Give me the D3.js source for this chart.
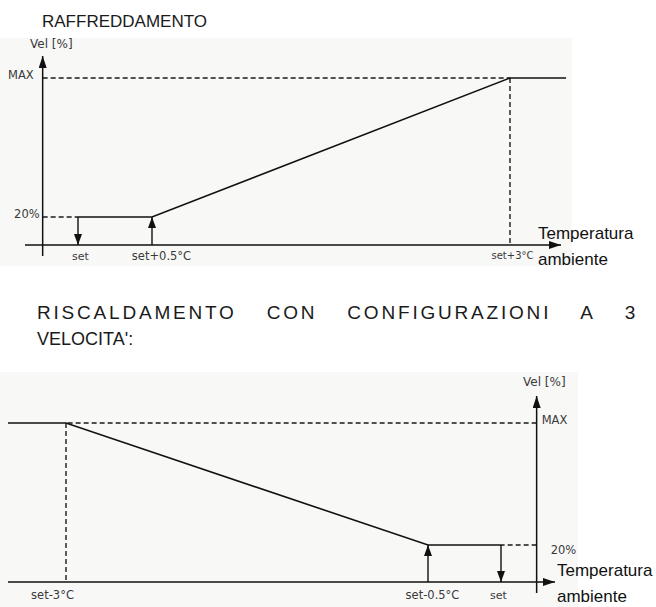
<!DOCTYPE html>
<html>
<head>
<meta charset="utf-8">
<script src="https://cdn.jsdelivr.net/npm/d3@7"></script>
<style>
  body { margin: 0; background: #fff; }
  svg { display: block; }
  .title { font-family: "Liberation Sans", Arial, sans-serif; fill: #1a1a1a; }
  .tick-lbl, .vel { font-family: "DejaVu Sans", Verdana, sans-serif; fill: #3a3a3a; }
  .xname { font-family: "Liberation Sans", Arial, sans-serif; font-size: 17px; fill: #111; }
</style>
</head>
<body>
<svg id="chart" width="656" height="607"></svg>
<script>
// ---- data ----
const speedLevels = [20, 100];
const speedLabels = ["20%", "MAX"];

const coolTicks = [0, 0.5, 3];
const coolTickLabels = ["set", "set+0.5°C", "set+3°C"];
const coolCurve = [[0, 20], [0.5, 20], [3, 100], [3.55, 100]];

const heatTicks = [-3, -0.5, 0];
const heatTickLabels = ["set-3°C", "set-0.5°C", "set"];
const heatCurve = [[-3.6, 100], [-3, 100], [-0.5, 20], [0, 20]];

const svg = d3.select("#chart");

// arrow markers
const defs = svg.append("defs");
function marker(id, w, h) {
  defs.append("marker")
    .attr("id", id)
    .attr("markerUnits", "userSpaceOnUse")
    .attr("viewBox", `0 0 ${h} ${w}`)
    .attr("refX", h).attr("refY", w / 2)
    .attr("markerWidth", h).attr("markerHeight", w)
    .attr("orient", "auto")
    .append("path")
    .attr("d", `M0,0L${h},${w / 2}L0,${w}Z`)
    .attr("fill", "#111");
}
marker("axisArrow", 8, 12);
marker("smallArrow", 8, 11);

const line = (x, y) => d3.line().x((d) => x(d[0])).y((d) => y(d[1]));

function drawPanel(cfg) {
  const g = svg.append("g");
  const { x, y } = cfg;

  // faint paper background
  g.append("rect")
    .attr("x", cfg.bg[0]).attr("y", cfg.bg[1])
    .attr("width", cfg.bg[2]).attr("height", cfg.bg[3])
    .attr("fill", "#f8f8f7");

  // dashed guides: levels from y axis to curve, vertical at the ramp end
  const dash = g.append("g")
    .attr("stroke", "#1a1a1a").attr("stroke-width", 1.4)
    .attr("stroke-dasharray", "5,3").attr("fill", "none");
  dash.append("line")
    .attr("x1", x(cfg.yAxisAt)).attr("x2", x(cfg.maxDashTo))
    .attr("y1", y(100)).attr("y2", y(100));
  dash.append("line")
    .attr("x1", x(cfg.yAxisAt)).attr("x2", x(cfg.lowDashTo))
    .attr("y1", y(20)).attr("y2", y(20));
  dash.append("line")
    .attr("x1", x(cfg.maxDashTo)).attr("x2", x(cfg.maxDashTo))
    .attr("y1", y(100)).attr("y2", y(0));

  // axes with arrowheads
  const ax = g.append("g").attr("stroke", "#111").attr("stroke-width", 1.5);
  ax.append("line")
    .attr("x1", x(cfg.xFrom)).attr("x2", x(cfg.xTo))
    .attr("y1", y(0)).attr("y2", y(0))
    .attr("marker-end", "url(#axisArrow)");
  ax.append("line")
    .attr("x1", x(cfg.yAxisAt)).attr("x2", x(cfg.yAxisAt))
    .attr("y1", y(0) + 11).attr("y2", y(100) - cfg.yTip)
    .attr("marker-end", "url(#axisArrow)");

  // curve
  g.append("path")
    .datum(cfg.curve)
    .attr("d", line(x, y))
    .attr("fill", "none").attr("stroke", "#111").attr("stroke-width", 1.6);

  // hysteresis arrows
  g.append("line")
    .attr("x1", x(cfg.downAt)).attr("x2", x(cfg.downAt))
    .attr("y1", y(20)).attr("y2", y(0))
    .attr("stroke", "#111").attr("stroke-width", 1.4)
    .attr("marker-end", "url(#smallArrow)");
  g.append("line")
    .attr("x1", x(cfg.upAt)).attr("x2", x(cfg.upAt))
    .attr("y1", y(0)).attr("y2", y(20))
    .attr("stroke", "#111").attr("stroke-width", 1.4)
    .attr("marker-end", "url(#smallArrow)");

  // x tick labels via d3 axis
  const xa = g.append("g")
    .attr("transform", `translate(0,${y(0)})`)
    .call(d3.axisBottom(x).tickValues(cfg.ticks)
      .tickFormat((d, i) => cfg.tickLabels[i]).tickSize(0).tickPadding(cfg.tickPad));
  xa.select(".domain").remove();
  xa.selectAll("text")
    .attr("class", "tick-lbl")
    .attr("fill", null)
    .style("font-size", (d, i) => cfg.tickSizes[i] + "px")
    .attr("dx", (d, i) => cfg.tickDx[i]);

  // y level labels via d3 axis
  const yAxisFn = cfg.side === "left" ? d3.axisLeft(y) : d3.axisRight(y);
  const ya = g.append("g")
    .attr("transform", `translate(${x(cfg.yAxisAt)},0)`)
    .call(yAxisFn.tickValues(speedLevels)
      .tickFormat((d, i) => speedLabels[i]).tickSize(0).tickPadding(3));
  ya.select(".domain").remove();
  ya.selectAll("text")
    .attr("class", "tick-lbl")
    .attr("fill", null)
    .style("font-size", "11.5px")
    .attr("dx", (d, i) => cfg.levelDx[i])
    .attr("dy", (d, i) => cfg.levelDy[i]);

  // axis names
  g.append("text").attr("class", "vel")
    .attr("x", cfg.velPos[0]).attr("y", cfg.velPos[1])
    .style("font-size", "12px")
    .text("Vel [%]");
  const nm = g.append("text").attr("class", "xname")
    .attr("x", cfg.namePos[0]).attr("y", cfg.namePos[1]);
  nm.append("tspan").text("Temperatura");
  nm.append("tspan").attr("x", cfg.namePos[0]).attr("dy", 26).text("ambiente");
}

// ---- cooling panel ----
drawPanel({
  x: d3.scaleLinear().domain([-1.5, 0, 0.5, 3, 3.5]).range([25, 78, 152, 510, 561]),
  y: d3.scaleLinear().domain([0, 20, 100]).range([245, 217, 78]),
  bg: [0, 38, 572, 228],
  curve: coolCurve,
  yAxisAt: -1,
  xFrom: -1.5, xTo: 3.5,
  maxDashTo: 3, lowDashTo: 0,
  yTip: 22,
  downAt: 0, upAt: 0.5,
  ticks: coolTicks, tickLabels: coolTickLabels,
  tickSizes: [11, 11.5, 10], tickDx: [2, 9, 2], tickPad: 7,
  side: "left",
  levelDx: [0, -6], levelDy: [0, 0],
  velPos: [30, 48],
  namePos: [538, 239]
});

// ---- heating panel ----
drawPanel({
  x: d3.scaleLinear().domain([-3.6, -3, -0.5, 0, 0.5]).range([8, 66, 428, 501, 555]),
  y: d3.scaleLinear().domain([0, 20, 100]).range([582, 545, 423]),
  bg: [0, 372, 578, 235],
  curve: heatCurve,
  yAxisAt: 0.33,
  xFrom: -3.6, xTo: 0.5,
  maxDashTo: -3, lowDashTo: 0,
  yTip: 27,
  downAt: 0, upAt: -0.5,
  ticks: heatTicks, tickLabels: heatTickLabels,
  tickSizes: [11.5, 11.5, 11], tickDx: [-14, 4, -3], tickPad: 9,
  side: "right",
  levelDx: [11, 2], levelDy: [8, 0],
  velPos: [523, 386],
  namePos: [557, 576]
});

// ---- titles ----
svg.append("text").attr("class", "title")
  .attr("x", 42).attr("y", 27)
  .style("font-size", "17px")
  .text("RAFFREDDAMENTO");

// justified first line: stretch the word gaps to reach the right margin
const line1 = svg.append("text").attr("class", "title")
  .attr("x", 37).attr("y", 319)
  .style("font-size", "19px")
  .style("letter-spacing", "2.8px")
  .text("RISCALDAMENTO CON CONFIGURAZIONI A 3");
const natural = line1.node().getComputedTextLength();
const gaps = line1.text().split(" ").length - 1;
line1.style("word-spacing", ((638 - 37 - natural) / gaps) + "px");

svg.append("text").attr("class", "title")
  .attr("x", 37).attr("y", 345)
  .style("font-size", "18px")
  .text("VELOCITA':");
</script>
</body>
</html>
